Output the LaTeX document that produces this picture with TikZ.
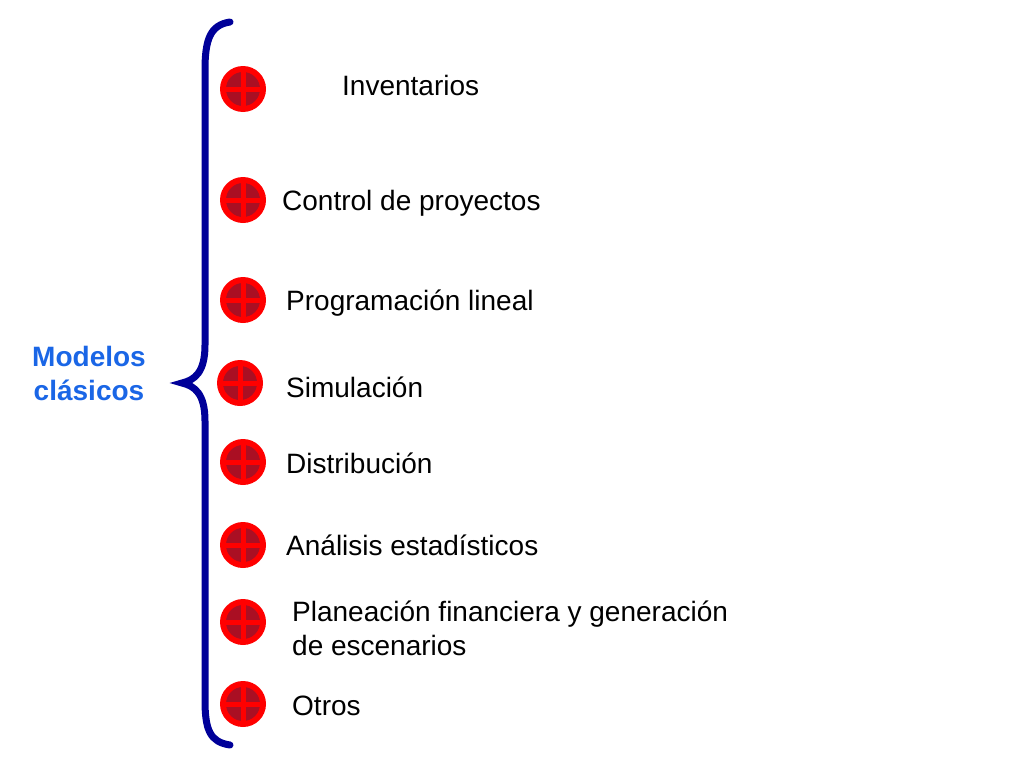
\documentclass[tikz,border=0pt]{standalone}
\usepackage{fontspec}
\setmainfont{Liberation Sans}
\definecolor{inr}{RGB}{170,15,35}
\begin{document}
\begin{tikzpicture}[x=1pt,y=-1pt,
  lbl/.style={anchor=west,font=\fontsize{28}{34}\selectfont,align=left,inner sep=0pt},
  bul/.pic={\fill[red] (0,0) circle (23);\fill[inr] (0,0) circle (17);
    \fill[red] (-18,-2.5) rectangle (18,2.5); \fill[red] (-2.5,-18) rectangle (2.5,18);}]
\useasboundingbox (0,0) rectangle (1024,768);
\draw[line width=7pt,color={rgb,255:red,0;green,0;blue,153},line cap=round]
  (230,22) .. controls (210,25) and (205,40) .. (205,70) -- (205,345)
  .. controls (205,372) and (195,380) .. (182,383)
  .. controls (195,386) and (205,394) .. (205,421) -- (205,700)
  .. controls (205,730) and (210,742) .. (230,745);
\node[font=\fontsize{28}{34}\selectfont\bfseries,text={rgb,255:red,26;green,102;blue,230},align=center] (m) at (89,373) {Modelos\\clásicos};
\foreach \i/\bx/\by/\tx/\ty/\t in {
 1/243/89/342/85/Inventarios,
 2/243/200/282/203/Control de proyectos,
 3/243/300/286/303/Programación lineal,
 4/240/383/286/387/Simulación,
 5/243/462/286/463/Distribución,
 6/243/545/286/545/Análisis estadísticos,
 8/243/704/292/706/Otros}{
 \pic at (\bx,\by) {bul};
 \node[lbl] (t\i) at (\tx,\ty) {\t};
}
\pic at (243,622) {bul};
\node[lbl] (t7) at (292,628) {Planeación financiera y generación\\de escenarios};
\end{tikzpicture}
\end{document}
